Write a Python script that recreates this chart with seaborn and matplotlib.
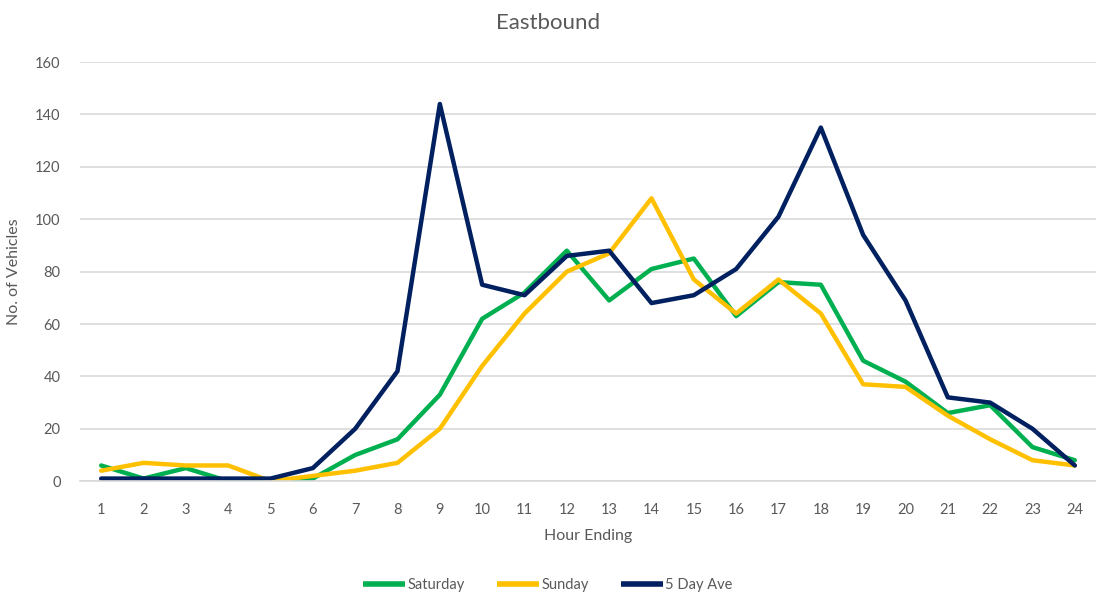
import matplotlib
matplotlib.use("Agg")
import matplotlib.pyplot as plt
import seaborn as sns
import pandas as pd

hours = list(range(1, 25))
saturday = [6, 1, 5, 0, 0, 1, 10, 16, 33, 62, 72, 88, 69, 81, 85, 63, 76, 75, 46, 38, 26, 29, 13, 8]
sunday = [4, 7, 6, 6, 0, 2, 4, 7, 20, 44, 64, 80, 87, 108, 77, 64, 77, 64, 37, 36, 25, 16, 8, 6]
five_day_ave = [1, 1, 1, 1, 1, 5, 20, 42, 144, 75, 71, 86, 88, 68, 71, 81, 101, 135, 94, 69, 32, 30, 20, 6]

series_names = ["Saturday", "Sunday", "5 Day Ave"]
series_colors = ["#00B050", "#FFC000", "#002060"]

df = pd.DataFrame({
    "Hour Ending": hours * 3,
    "Vehicles": saturday + sunday + five_day_ave,
    "Series": [n for n in series_names for _ in hours],
})

sns.set_theme(style="white")
plt.rcParams["font.family"] = ["Lato", "DejaVu Sans"]
text_color = "#595959"

fig = plt.figure(figsize=(10.96, 5.97), dpi=100)
ax = fig.add_axes([0.073, 0.194, 0.927, 0.702])

sns.lineplot(data=df, x="Hour Ending", y="Vehicles", hue="Series",
             palette=dict(zip(series_names, series_colors)),
             linewidth=3.2, ax=ax, legend=False)

ax.set_xlim(0.5, 24.5)
ax.set_ylim(0, 160)
ax.set_xticks(hours)
ax.set_yticks(range(0, 161, 20))
ax.grid(axis="y", color="#D9D9D9", linewidth=1.2)
ax.set_axisbelow(True)
for s in ["top", "right", "left"]:
    ax.spines[s].set_visible(False)
ax.spines["bottom"].set_color("#D9D9D9")
ax.spines["bottom"].set_linewidth(1.2)
ax.tick_params(axis="both", length=0, labelsize=10.5, colors=text_color)
ax.tick_params(axis="y", pad=14)
ax.tick_params(axis="x", pad=16)

ax.set_xlabel("Hour Ending", fontsize=11.5, color=text_color, labelpad=8)
ax.set_ylabel("No. of Vehicles", fontsize=11.5, color=text_color, labelpad=10)
fig.text(0.5, 0.962, "Eastbound", ha="center", va="center", fontsize=16, color=text_color)

handles = [plt.Line2D([0], [0], color=c, linewidth=4, solid_capstyle="butt") for c in series_colors]
fig.legend(handles, series_names, loc="center", bbox_to_anchor=(0.5, 0.02),
           ncol=3, frameon=False, fontsize=10.5, labelcolor=text_color,
           handlelength=2.9, handletextpad=0.15, columnspacing=2.2)

fig.savefig("out.png", dpi=100)
